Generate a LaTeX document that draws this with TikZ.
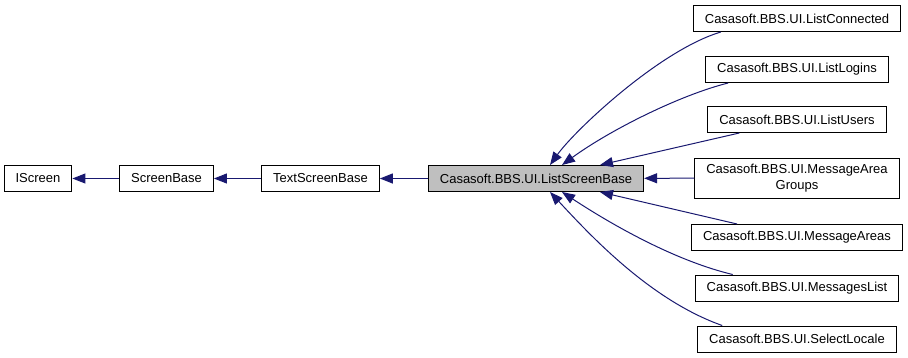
\documentclass[tikz,border=0pt]{standalone}
\usepackage{fontspec}
\setmainfont{Liberation Sans}
\usetikzlibrary{arrows.meta}

\definecolor{edgeblue}{HTML}{191970}
\definecolor{basegray}{HTML}{BFBFBF}

\tikzset{
  box/.style={draw=black, fill=white, line width=1pt, minimum height=26pt,
    inner xsep=11.5pt, inner ysep=2pt, font=\fontsize{13}{16}\selectfont},
  inherit/.style={draw=edgeblue, line width=1pt,
    -{Triangle[length=13pt,width=10pt,fill=edgeblue]}}
}

\begin{document}
\begin{tikzpicture}[x=1pt, y=-1pt]
    \useasboundingbox (0,0) rectangle (908,357);

    % Base class chain
    \node[box] (iscreen) at (38,178.5) {IScreen};
    \node[box] (screenbase) at (166.5,178.5) {ScreenBase};
    \node[box] (textbase) at (320.5,178.5) {TextScreenBase};
    \node[box, fill=basegray] (listbase) at (536,178.5) {Casasoft.BBS.UI.ListScreenBase};

    \draw[inherit] (screenbase) -- (iscreen);
    \draw[inherit] (textbase) -- (screenbase);
    \draw[inherit] (listbase) -- (textbase);

    % Derived screens
    \foreach \name/\y/\txt in {connected/18.5/ListConnected, logins/69.5/ListLogins,
        users/119.5/ListUsers, areas/237.5/MessageAreas,
        msglist/288/MessagesList, locale/339/SelectLocale} {
        \node[box] (\name) at (797,\y) {Casasoft.BBS.UI.\txt};
    }
    \node[box, align=center, minimum height=40pt] (groups) at (797,178)
        {Casasoft.BBS.UI.MessageArea\\Groups};

    % Inheritance edges into ListScreenBase
    \draw[inherit] ([xshift=28pt]connected.south west) .. controls (660,50) and (575,130) .. ([xshift=14pt]listbase.north);
    \draw[inherit] ([xshift=23pt]logins.south west) .. controls (680,95) and (610,130) .. ([xshift=26pt]listbase.north);
    \draw[inherit] ([xshift=32pt]users.south west) -- ([xshift=64pt]listbase.north);
    \draw[inherit] (groups) -- (listbase);
    \draw[inherit] ([xshift=46pt]areas.north west) -- ([xshift=64pt]listbase.south);
    \draw[inherit] ([xshift=38pt]msglist.north west) .. controls (680,262) and (620,230) .. ([xshift=26pt]listbase.south);
    \draw[inherit] ([xshift=25pt]locale.north west) .. controls (650,300) and (590,235) .. ([xshift=14pt]listbase.south);

\end{tikzpicture}
\end{document}
